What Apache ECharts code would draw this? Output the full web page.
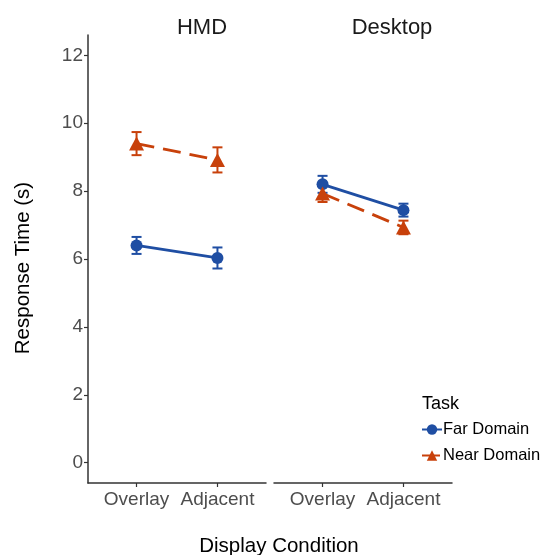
<!DOCTYPE html>
<html>
<head>
<meta charset="utf-8">
<script src="https://cdn.jsdelivr.net/npm/echarts@6/dist/echarts.min.js"></script>
<style>
  html, body { margin: 0; padding: 0; background: #ffffff; }
  #chart { width: 543px; height: 555px; }
</style>
</head>
<body>
<div id="chart"></div>
<script>
// Response time by display condition, faceted by display type
const panels = ['HMD', 'Desktop'];
const conditions = ['Overlay', 'Adjacent'];
const tasks = ['Far Domain', 'Near Domain'];
const yTicks = [0, 2, 4, 6, 8, 10, 12];

// Far Domain task: mean and half-width of error bar
const farHMD = [6.40, 6.03];
const farHMDErr = [0.25, 0.31];
const farDesktop = [8.20, 7.44];
const farDesktopErr = [0.25, 0.19];

// Near Domain task
const nearHMD = [9.40, 8.92];
const nearHMDErr = [0.34, 0.37];
const nearDesktop = [7.93, 6.93];
const nearDesktopErr = [0.25, 0.20];

const BLUE = '#1f4ea3';
const RED = '#c8410b';
const FONT = '"Liberation Sans", Arial, sans-serif';

const chart = echarts.init(document.getElementById('chart'), null, { renderer: 'canvas' });

function points(vals) {
  return vals.map((v, i) => [i + 1, v]);
}
function bars(vals, errs) {
  return vals.map((v, i) => [i + 1, v - errs[i], v + errs[i]]);
}

function errorBarRender(params, api) {
  const x = api.value(0);
  const lo = api.coord([x, api.value(1)]);
  const hi = api.coord([x, api.value(2)]);
  const half = 5;
  const style = { stroke: api.visual('color'), lineWidth: 2 };
  return {
    type: 'group',
    children: [
      { type: 'line', shape: { x1: lo[0], y1: lo[1], x2: hi[0], y2: hi[1] }, style },
      { type: 'line', shape: { x1: lo[0] - half, y1: lo[1], x2: lo[0] + half, y2: lo[1] }, style },
      { type: 'line', shape: { x1: hi[0] - half, y1: hi[1], x2: hi[0] + half, y2: hi[1] }, style }
    ]
  };
}

function lineSeries(name, vals, idx, color, dashed, symbol, size) {
  return {
    name: name,
    type: 'line',
    xAxisIndex: idx,
    yAxisIndex: idx,
    data: points(vals),
    symbol: symbol,
    symbolSize: size,
    showSymbol: true,
    z: 3,
    itemStyle: { color: color },
    lineStyle: { color: color, width: 2.8, type: dashed ? [18, 9] : 'solid' },
    emphasis: { disabled: true },
    animation: false
  };
}

function errSeries(name, vals, errs, idx, color) {
  return {
    name: name,
    type: 'custom',
    xAxisIndex: idx,
    yAxisIndex: idx,
    data: bars(vals, errs),
    renderItem: errorBarRender,
    z: 2,
    itemStyle: { color: color },
    encode: { x: 0, y: [1, 2] },
    animation: false
  };
}

const gridLefts = [88, 274];
const grids = gridLefts.map(l => ({ left: l, width: 178, top: 35, height: 448 }));

const xAxes = panels.map((p, i) => ({
  type: 'value',
  gridIndex: i,
  min: 0.4,
  max: 2.6,
  axisLine: { show: true, onZero: false, lineStyle: { color: '#333333', width: 1.5 } },
  axisTick: { show: true, length: 4, customValues: [1, 2], lineStyle: { color: '#333333', width: 1.2 } },
  axisLabel: {
    customValues: [1, 2],
    formatter: v => conditions[Math.round(v) - 1],
    color: '#4d4d4d',
    fontFamily: FONT,
    fontSize: 19,
    margin: 7
  },
  splitLine: { show: false }
}));

const yAxes = panels.map((p, i) => ({
  type: 'value',
  gridIndex: i,
  min: -0.6,
  max: 12.6,
  axisLine: { show: i === 0, lineStyle: { color: '#333333', width: 1.5 } },
  axisTick: { show: i === 0, length: 4, customValues: yTicks, lineStyle: { color: '#333333', width: 1.2 } },
  axisLabel: {
    show: i === 0,
    customValues: yTicks,
    color: '#4d4d4d',
    fontFamily: FONT,
    fontSize: 19,
    margin: 5
  },
  splitLine: { show: false }
}));

const option = {
  backgroundColor: '#ffffff',
  animation: false,
  title: [
    { text: panels[0], left: 197, top: 12, textAlign: 'center',
      textStyle: { fontFamily: FONT, fontSize: 22, fontWeight: 'normal', color: '#1a1a1a' } },
    { text: panels[1], left: 387, top: 12, textAlign: 'center',
      textStyle: { fontFamily: FONT, fontSize: 22, fontWeight: 'normal', color: '#1a1a1a' } },
    { text: 'Task', left: 417, top: 390,
      textStyle: { fontFamily: FONT, fontSize: 18, fontWeight: 'normal', color: '#000000' } },
    { text: 'Display Condition', left: 274, top: 531, textAlign: 'center',
      textStyle: { fontFamily: FONT, fontSize: 20.5, fontWeight: 'normal', color: '#000000' } }
  ],
  graphic: [
    {
      type: 'text',
      x: 13,
      y: 268,
      rotation: Math.PI / 2,
      style: {
        text: 'Response Time (s)',
        font: '20.5px ' + FONT,
        fill: '#000000',
        align: 'center',
        verticalAlign: 'top'
      }
    }
  ],
  legend: {
    data: tasks,
    orient: 'vertical',
    left: 416,
    top: 416,
    itemWidth: 20,
    itemHeight: 13,
    itemGap: 9,
    textStyle: { fontFamily: FONT, fontSize: 16.5, color: '#000000', padding: [0, 0, 0, -4] },
    selectedMode: false
  },
  grid: grids,
  xAxis: xAxes,
  yAxis: yAxes,
  series: [
    lineSeries(tasks[0], farHMD, 0, BLUE, false, 'circle', 12),
    lineSeries(tasks[1], nearHMD, 0, RED, true, 'triangle', [15, 14]),
    lineSeries(tasks[0], farDesktop, 1, BLUE, false, 'circle', 12),
    lineSeries(tasks[1], nearDesktop, 1, RED, true, 'triangle', [15, 14]),
    errSeries(tasks[0], farHMD, farHMDErr, 0, BLUE),
    errSeries(tasks[1], nearHMD, nearHMDErr, 0, RED),
    errSeries(tasks[0], farDesktop, farDesktopErr, 1, BLUE),
    errSeries(tasks[1], nearDesktop, nearDesktopErr, 1, RED)
  ]
};

chart.setOption(option);
</script>
</body>
</html>
